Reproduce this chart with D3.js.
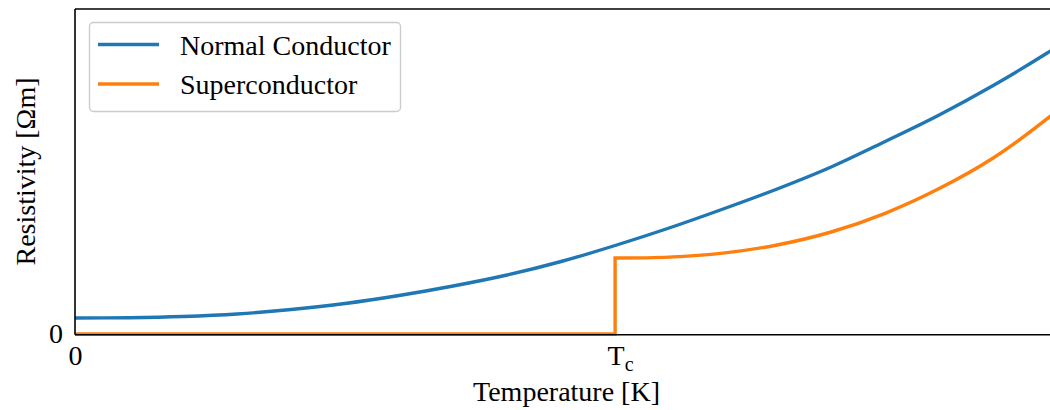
<!DOCTYPE html>
<html>
<head>
<meta charset="utf-8">
<script src="https://cdn.jsdelivr.net/npm/d3@7"></script>
<style>
  html, body { margin: 0; padding: 0; background: #fff; }
  svg { display: block; }
  text { font-family: "Liberation Serif", "Times New Roman", serif; fill: #000; }
</style>
</head>
<body>
<svg id="chart" width="1050" height="410"></svg>
<script>
// Temperature in units of the critical temperature (Tc = 1)
const normalT   = [0, 0.1, 0.2, 0.3, 0.4, 0.5, 0.6, 0.7, 0.8, 0.9, 1.0, 1.1, 1.2, 1.3, 1.4, 1.5, 1.6, 1.7, 1.8, 1.9];
const normalRho = [0.160, 0.163, 0.175, 0.200, 0.245, 0.305, 0.385, 0.480, 0.590, 0.725, 0.885, 1.060, 1.250, 1.450, 1.670, 1.925, 2.190, 2.485, 2.810, 3.160];

// Superconducting state: zero resistivity up to Tc, then a jump
const superLowT    = [0, 1.0, 1.0];
const superLowRho  = [0, 0, 0.76];
const superHighT   = [1.0, 1.1, 1.2, 1.3, 1.4, 1.5, 1.6, 1.7, 1.8, 1.9];
const superHighRho = [0.760, 0.769, 0.809, 0.890, 1.020, 1.207, 1.454, 1.760, 2.153, 2.612];

const xTicks = [0, 1];
const xTickLabels = ["0", "Tc"];
const yTicks = [0];
const yTickLabels = ["0"];

const seriesNames = ["Normal Conductor", "Superconductor"];
const seriesColors = ["#1f77b4", "#ff7f0e"];

const svg = d3.select("#chart");
const plotLeft = 75, plotRight = 1058, plotTop = 9, plotBottom = 334;

const x = d3.scaleLinear().domain([0, 1.82]).range([plotLeft, plotRight]);
const y = d3.scaleLinear().domain([0, 3.25]).range([plotBottom, plotTop]);

svg.append("clipPath").attr("id", "plotClip")
  .append("rect").attr("x", plotLeft).attr("y", plotTop - 2)
  .attr("width", plotRight - plotLeft).attr("height", plotBottom - plotTop + 4);

const plot = svg.append("g").attr("clip-path", "url(#plotClip)");

const smooth = d3.line().x(d => x(d[0])).y(d => y(d[1])).curve(d3.curveCatmullRom.alpha(0.5));
const straight = d3.line().x(d => x(d[0])).y(d => y(d[1]));

plot.append("path")
  .attr("d", smooth(normalT.map((t, i) => [t, normalRho[i]])))
  .attr("fill", "none").attr("stroke", seriesColors[0])
  .attr("stroke-width", 3.4).attr("stroke-linejoin", "round");

const lowPath = straight(superLowT.map((t, i) => [t, superLowRho[i]]));
const highPath = smooth(superHighT.map((t, i) => [t, superHighRho[i]])).replace(/^M/, "L");
plot.append("path")
  .attr("d", lowPath + highPath)
  .attr("fill", "none").attr("stroke", seriesColors[1])
  .attr("stroke-width", 3.4).attr("stroke-linejoin", "miter");

// Axes frame
const frame = svg.append("g").attr("stroke", "#000").attr("stroke-width", 1.6).attr("fill", "none");
frame.append("line").attr("x1", plotLeft).attr("x2", plotLeft).attr("y1", plotTop).attr("y2", plotBottom + 0.8);
frame.append("line").attr("x1", plotLeft).attr("x2", plotRight).attr("y1", plotBottom + 0.8).attr("y2", plotBottom + 0.8);
frame.append("line").attr("x1", plotLeft).attr("x2", plotRight).attr("y1", plotTop).attr("y2", plotTop);
frame.append("line").attr("x1", plotRight).attr("x2", plotRight).attr("y1", plotTop).attr("y2", plotBottom);

// X axis ticks
const xAxis = svg.append("g").attr("transform", `translate(0,${plotBottom})`)
  .call(d3.axisBottom(x).tickValues(xTicks).tickSize(0).tickPadding(11)
    .tickFormat((d, i) => xTickLabels[i]));
xAxis.select(".domain").remove();
xAxis.selectAll("text").attr("font-size", 28).attr("font-family", "Liberation Serif").attr("fill", "#000")
  .each(function(d, i) {
    const label = xTickLabels[i];
    if (label === "Tc") {
      const t = d3.select(this).text(null).attr("dx", 5);
      t.append("tspan").text("T");
      t.append("tspan").text("c").attr("font-size", 20).attr("dy", 6);
    }
  });

// Y axis ticks
const yAxis = svg.append("g").attr("transform", `translate(${plotLeft},0)`)
  .call(d3.axisLeft(y).tickValues(yTicks).tickSize(0).tickPadding(12)
    .tickFormat((d, i) => yTickLabels[i]));
yAxis.select(".domain").remove();
yAxis.selectAll("text").attr("font-size", 28).attr("font-family", "Liberation Serif").attr("fill", "#000");

// Axis titles
svg.append("text").attr("x", (plotLeft + plotRight) / 2).attr("y", 401)
  .attr("text-anchor", "middle").attr("font-size", 28).text("Temperature [K]");
svg.append("text").attr("transform", `translate(35,${(plotTop + plotBottom) / 2}) rotate(-90)`)
  .attr("text-anchor", "middle").attr("font-size", 28).text("Resistivity [Ωm]");

// Legend
const legend = svg.append("g");
legend.append("rect").attr("x", 89.5).attr("y", 22.5).attr("width", 311).attr("height", 89)
  .attr("rx", 4).attr("fill", "#fff").attr("fill-opacity", 0.8)
  .attr("stroke", "#cccccc").attr("stroke-width", 1.4);
seriesNames.forEach((name, i) => {
  const cy = 44.5 + i * 39.5;
  legend.append("line").attr("x1", 98).attr("x2", 159).attr("y1", cy).attr("y2", cy)
    .attr("stroke", seriesColors[i]).attr("stroke-width", 3.4);
  legend.append("text").attr("x", 180).attr("y", cy + 10).attr("font-size", 28).text(name);
});
</script>
</body>
</html>
